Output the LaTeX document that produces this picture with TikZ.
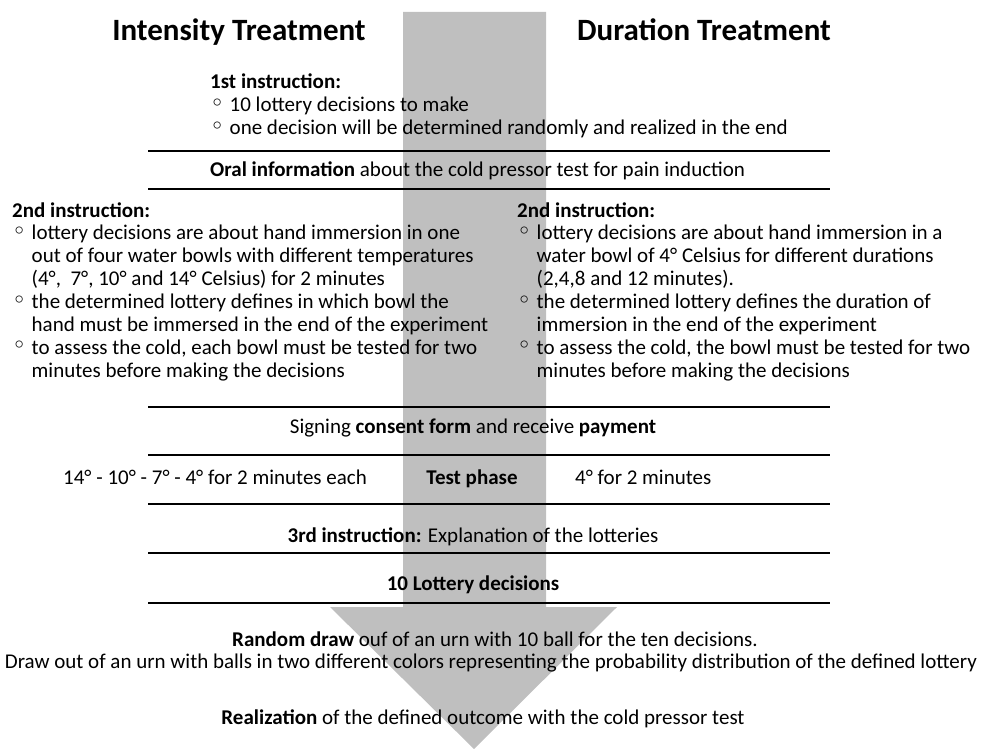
\documentclass[tikz,border=0pt]{standalone}
\usepackage{fontspec}
\setmainfont{Carlito}
\newfontfamily\symfont{DejaVu Sans}
\usetikzlibrary{positioning}
\definecolor{arrowgray}{RGB}{191,191,191}
\newcommand{\obul}{\raisebox{0.5pt}{\scalebox{1.15}{\symfont ◦}}}

\begin{document}
\begin{tikzpicture}[x=1pt, y=-1pt,
  every node/.style={inner sep=0pt, font=\fontsize{21}{22.9}\selectfont},
  head/.style={font=\fontsize{31}{34}\selectfont\bfseries},
  sepline/.style={line width=2.2pt}]

\useasboundingbox (0,0) rectangle (982,749);

% big flow arrow in the back
\fill[arrowgray] (403,12) -- (546,12) -- (546,607) -- (617,607)
  -- (474,749) -- (330,607) -- (403,607) -- cycle;

% separators
\foreach \y in {151,189,407,455,504,553,603}
  \draw[sepline] (148,\y) -- (830,\y);

% treatments
\node[head, anchor=base] (int) at (239,41) {Intensity Treatment};
\node[head, anchor=base] (dur) at (704,41) {Duration Treatment};

% 1st instruction
\node[anchor=base west] (ins1) at (210,89) {\begin{tabular}[t]{@{}l@{\hspace{0.25em}}l@{}}
  \multicolumn{2}{@{}l}{\textbf{1st instruction:}}\\
  \obul & 10 lottery decisions to make\\
  \obul & one decision will be determined randomly and realized in the end
  \end{tabular}};

\node[anchor=base west] (oral) at (210,176) {\textbf{Oral information} about the cold pressor test for pain induction};

% 2nd instruction, both treatments
\node[anchor=base west] (ins2l) at (12,217) {\begin{tabular}[t]{@{}l@{\hspace{0.25em}}l@{}}
  \multicolumn{2}{@{}l}{\textbf{2nd instruction:}}\\
  \obul & lottery decisions are about hand immersion in one\\
        & out of four water bowls with different temperatures\\
        & (4°,~ 7°, 10° and 14° Celsius) for 2 minutes\\
  \obul & the determined lottery defines in which bowl the\\
        & hand must be immersed in the end of the experiment\\
  \obul & to assess the cold, each bowl must be tested for two\\
        & minutes before making the decisions
  \end{tabular}};
\node[anchor=base west] (ins2r) at (517,217) {\begin{tabular}[t]{@{}l@{\hspace{0.25em}}l@{}}
  \multicolumn{2}{@{}l}{\textbf{2nd instruction:}}\\
  \obul & lottery decisions are about hand immersion in a\\
        & water bowl of 4° Celsius for different durations\\
        & (2,4,8 and 12 minutes).\\
  \obul & the determined lottery defines the duration of\\
        & immersion in the end of the experiment\\
  \obul & to assess the cold, the bowl must be tested for two\\
        & minutes before making the decisions
  \end{tabular}};

% common steps
\node[anchor=base] (sign) at (473,433) {Signing \textbf{consent form} and receive \textbf{payment}};
\node[anchor=base] (test) at (472,484) {\textbf{Test phase}};
\node[anchor=base west] (testl) at (63,484) {14° - 10° - 7° - 4° for 2 minutes each};
\node[anchor=base west] (testr) at (575,484) {4° for 2 minutes};
\node[anchor=base] (ins3) at (473,542) {\textbf{3rd instruction:} Explanation of the lotteries};
\node[anchor=base] (lott) at (473,590) {\textbf{10 Lottery decisions}};

% draw and realization
\node[anchor=base] (draw) at (495,646) {\textbf{Random draw} ouf of an urn with 10 ball for the ten decisions.};
\node[anchor=base] (urn) at (491,668) {Draw out of an urn with balls in two different colors representing the probability distribution of the defined lottery};
\node[anchor=base] (real) at (483,724) {\textbf{Realization} of the defined outcome with the cold pressor test};

\end{tikzpicture}
\end{document}
